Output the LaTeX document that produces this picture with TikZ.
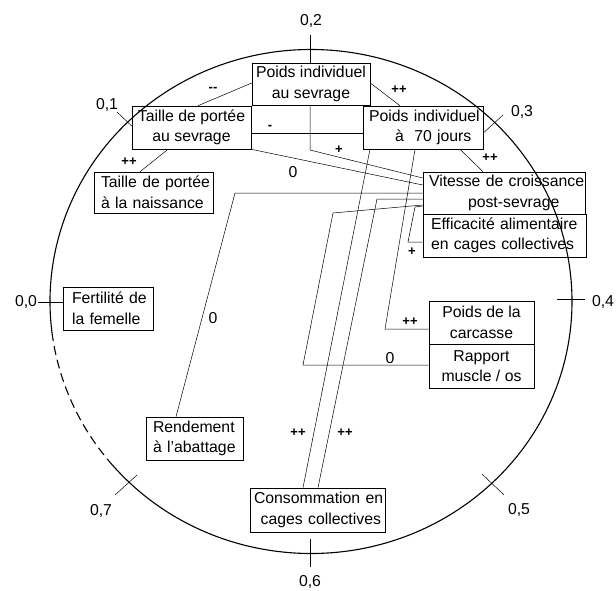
\documentclass[tikz,border=0pt]{standalone}
\usepackage{fontspec}
\setmainfont{Liberation Sans}
\usetikzlibrary{calc}
\begin{document}
\begin{tikzpicture}[x=1pt,y=-1pt,
  box/.style={draw, line width=0.6pt, inner ysep=0pt, font=\fontsize{15.8}{20.6}\selectfont},
  lab/.style={inner sep=0pt, font=\fontsize{15.8}{19}\selectfont},
  sgn/.style={inner sep=0pt, font=\fontsize{13}{15}\selectfont\bfseries},
  con/.style={line width=0.5pt},
  tickline/.style={line width=0.5pt},
  circ/.style={line width=1.1pt}]
\useasboundingbox (0,0) rectangle (616,591);
% circle
\coordinate (C) at (311,301.5);
\draw[circ] (C) ++(220:261pt and 252pt) arc[start angle=220, end angle=547, x radius=261pt, y radius=252pt];
\draw[circ, dash pattern=on 9pt off 5pt] (C) ++(187:261pt and 252pt) arc[start angle=187, end angle=220, x radius=261pt, y radius=252pt];
% boxes
\node[box, minimum width=118pt, minimum height=42pt, align=center] (sevr) at (311,84) {\mbox{Poids individuel}\\\mbox{au sevrage}};
\node[box, minimum width=119pt, minimum height=43pt, align=center] (tps) at (191.5,127.5) {\mbox{Taille de portée}\\\mbox{au sevrage}};
\node[box, minimum width=120pt, minimum height=43pt, inner xsep=6pt, text width=108pt, align=left] (p70) at (423,127.5) {\mbox{Poids individuel}\\\mbox{\hspace*{26pt}à~~70 jours}};
\node[box, minimum width=119pt, minimum height=41pt, inner xsep=7pt, text width=105pt, align=left] (tpn) at (153.5,192.5) {\mbox{Taille de portée}\\\mbox{à la naissance}};
\node[box, minimum width=162pt, minimum height=42pt, inner xsep=6pt, text width=150pt, align=left] (vit) at (504,193) {\mbox{Vitesse de croissance}\\\mbox{\hspace*{39pt}post-sevrage}};
\node[box, minimum width=163pt, minimum height=43pt, inner xsep=8pt, text width=147pt, align=left] (eff) at (504.5,235.5) {\mbox{Efficacité alimentaire}\\\mbox{en cages collectives}};
\node[box, minimum width=90pt, minimum height=43pt, inner xsep=9pt, text width=72pt, align=left] (fer) at (108,308.5) {\mbox{Fertilité de}\\\mbox{la femelle}};
\node[box, minimum width=105pt, minimum height=43pt, align=center] (pcar) at (481.5,322.5) {\mbox{Poids de la}\\\mbox{carcasse}};
\node[box, minimum width=105pt, minimum height=44pt, align=center] (rap) at (481.5,366) {\mbox{Rapport}\\\mbox{muscle / os}};
\node[box, minimum width=97pt, minimum height=43pt, inner xsep=7pt, text width=83pt, align=left] (ren) at (194.5,438.5) {\mbox{Rendement}\\\mbox{à l\char39abattage}};
\node[box, minimum width=135pt, minimum height=44pt, inner xsep=4pt, text width=127pt, align=right] (cons) at (317.5,510) {\mbox{Consommation en}\\\mbox{cages collectives}};
% connectors
\draw[con] (198,0 |- tps.north) -- (sevr.west |- 0,83);
\node[sgn] (s1) at (213,89) {-{}-};
\draw[con] (168,0 |- tps.south) -- (140,0 |- tpn.north);
\node[sgn] (s2) at (129,162) {++};
\draw[con] (tps.east |- 0,133) -- (p70.west |- 0,133);
\node[sgn] (s3) at (270,127) {-};
\draw[con] (sevr.east |- 0,83) -- (400,0 |- p70.north);
\node[sgn] (s4) at (399,90) {++};
\draw[con] (310,0 |- sevr.south) -- (310,150) -- (vit.west |- 0,178);
\node[sgn] (s5) at (339,150) {+};
\draw[con] (tps.south east) -- (vit.west |- 0,185);
\node[lab] (s6) at (293,172) {0};
\draw[con] (460,0 |- p70.south) -- (483,0 |- vit.north);
\node[sgn] (s7) at (490,158) {++};
\draw[con] (vit.west |- 0,193) -- (235,193) -- (176,0 |- ren.north);
\node[lab] (s8) at (213,318) {0};
\draw[con] (vit.west |- 0,206) -- (415,207) -- (408,242) -- (eff.west |- 0,242);
\node[sgn] (s9) at (412,252) {+};
\draw[con] (vit.west |- 0,205) -- (333,213) -- (303,365) -- (rap.west |- 0,365);
\node[lab] (s10) at (390,358) {0};
\draw[con] (415,0 |- p70.south) -- (385,329) -- (pcar.west |- 0,329);
\node[sgn] (s11) at (410,322) {++};
\draw[con] (370,0 |- p70.south) -- (303,0 |- cons.north);
\node[sgn] (s12) at (298,433) {++};
\draw[con] (vit.west |- 0,199) -- (377,199) -- (318,0 |- cons.north);
\node[sgn] (s13) at (345,433) {++};
% scale ticks and labels
\node[lab] (k0) at (26,302) {0,0};
\coordinate (t0) at (38,302);
\draw[tickline] (t0) -- (fer.west |- t0);
\node[lab] (k1) at (107,105) {0,1};
\coordinate (t1) at (117,112);
\draw[tickline] (t1) -- (tps.west |- 0,126);
\node[lab] (k2) at (311,21) {0,2};
\coordinate (t2) at (310,35);
\draw[tickline] (t2) -- (t2 |- sevr.north);
\node[lab] (k3) at (522,112) {0,3};
\coordinate (t3) at (503,115);
\draw[tickline] (t3) -- (p70.east |- 0,133);
\node[lab] (k4) at (603,302) {0,4};
\coordinate (t4a) at (557,299);
\coordinate (t4b) at (585,299);
\draw[tickline] (t4a) -- (t4b);
\node[lab] (k5) at (519,510) {0,5};
\coordinate (t5a) at (482,474);
\coordinate (t5b) at (504,495);
\draw[tickline] (t5a) -- (t5b);
\node[lab] (k6) at (310,582) {0,6};
\coordinate (t6a) at (310,539);
\coordinate (t6b) at (310,567);
\draw[tickline] (t6a) -- (t6b);
\node[lab] (k7) at (101,511) {0,7};
\coordinate (t7a) at (115,495);
\coordinate (t7b) at (137,475);
\draw[tickline] (t7a) -- (t7b);
\end{tikzpicture}
\end{document}
